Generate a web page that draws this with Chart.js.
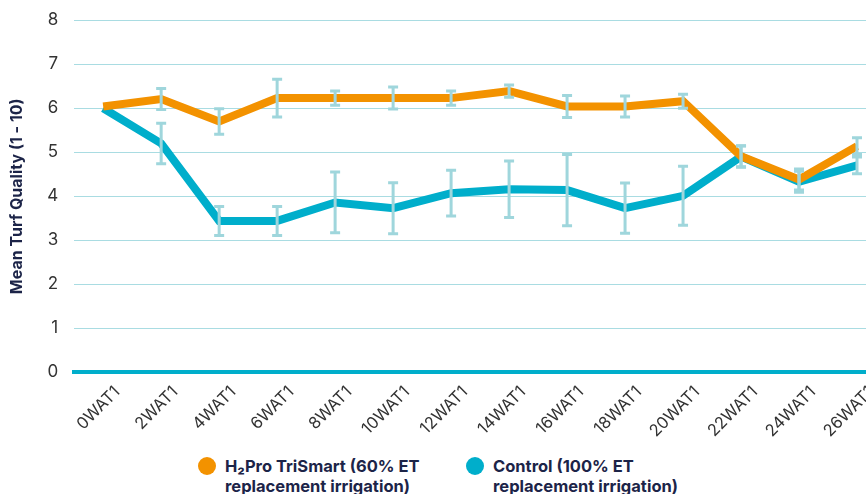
<!DOCTYPE html>
<html>
<head>
<meta charset="utf-8">
<script src="https://cdn.jsdelivr.net/npm/chart.js@4.4.1/dist/chart.umd.min.js"></script>
<style>
  html, body { margin: 0; padding: 0; background: #fff; overflow: hidden; width: 866px; height: 494px; }
  #wrap { position: absolute; left: 0; top: -6px; width: 888px; height: 449px; }
  .legend { position: absolute; top: 456px; font-family: Inter, "Noto Sans", sans-serif; font-weight: 700;
            font-size: 16.5px; line-height: 20px; color: #1c2448; }
  .legend .dot { position: absolute; left: 0; top: 1px; width: 18px; height: 18px; border-radius: 50%; }
  .legend .txt { margin-left: 27px; white-space: nowrap; }
</style>
</head>
<body>
<div id="wrap"><canvas id="chart"></canvas></div>
<div class="legend" style="left:198px"><span class="dot" style="background:#f39200"></span><div class="txt">H₂Pro TriSmart (60% ET<br>replacement irrigation)</div></div>
<div class="legend" style="left:466px"><span class="dot" style="background:#00aecb"></span><div class="txt">Control (100% ET<br>replacement irrigation)</div></div>
<script>
// 数据
const categories = ['0WAT1', '2WAT1', '4WAT1', '6WAT1', '8WAT1', '10WAT1', '12WAT1',
  '14WAT1', '16WAT1', '18WAT1', '20WAT1', '22WAT1', '24WAT1', '26WAT1'];
const trismartValues = [6.04, 6.21, 5.70, 6.23, 6.23, 6.23, 6.23, 6.39, 6.04, 6.04, 6.16, 4.91, 4.38, 5.14];
const trismartErr    = [0, 0.24, 0.29, 0.43, 0.16, 0.25, 0.16, 0.14, 0.25, 0.24, 0.16, 0.24, 0.24, 0.19];
const controlValues  = [6.0, 5.2, 3.44, 3.44, 3.86, 3.73, 4.07, 4.16, 4.14, 3.73, 4.01, 4.9, 4.33, 4.7];
const controlErr     = [0, 0.46, 0.33, 0.33, 0.69, 0.58, 0.52, 0.64, 0.81, 0.57, 0.67, 0.24, 0.24, 0.19];

const orange = '#f39200';
const cyan = '#00aecb';
const barColor = '#9fd6dc';

// 误差线插件
const errorBars = {
  id: 'errorBars',
  afterDatasetsDraw(chart) {
    const ctx = chart.ctx;
    const xs = chart.scales.x, ys = chart.scales.y;
    ctx.save();
    ctx.strokeStyle = barColor;
    ctx.lineWidth = 3;
    chart.data.datasets.forEach(ds => {
      ds.data.forEach((v, i) => {
        const e = ds.err[i];
        if (!e) return;
        const x = xs.getPixelForValue(i);
        const y1 = ys.getPixelForValue(v + e);
        const y2 = ys.getPixelForValue(v - e);
        ctx.beginPath();
        ctx.moveTo(x, y1); ctx.lineTo(x, y2);
        ctx.moveTo(x - 5, y1); ctx.lineTo(x + 5, y1);
        ctx.moveTo(x - 5, y2); ctx.lineTo(x + 5, y2);
        ctx.stroke();
      });
    });
    ctx.restore();
  }
};

new Chart(document.getElementById('chart'), {
  type: 'line',
  data: {
    labels: categories,
    datasets: [
      { label: 'H₂Pro TriSmart (60% ET replacement irrigation)', data: trismartValues, err: trismartErr,
        borderColor: orange, backgroundColor: orange, borderWidth: 8, pointRadius: 0, order: 1 },
      { label: 'Control (100% ET replacement irrigation)', data: controlValues, err: controlErr,
        borderColor: cyan, backgroundColor: cyan, borderWidth: 8, pointRadius: 0, order: 2 }
    ]
  },
  options: {
    responsive: true,
    maintainAspectRatio: false,
    animation: false,
    layout: { padding: { top: 0, right: 2, left: 4 } },
    plugins: { legend: { display: false }, tooltip: { enabled: false } },
    scales: {
      x: {
        offset: true,
        grid: { display: false },
        border: { display: true, color: cyan, width: 4 },
        ticks: { color: '#333', font: { family: 'Inter', size: 16.5 }, minRotation: 45, maxRotation: 45,
                 padding: 2, labelOffset: 14 }
      },
      y: {
        min: 0, max: 8,
        ticks: { stepSize: 1, color: '#333', font: { family: 'Inter', size: 17 }, padding: 16 },
        grid: { color: '#a9dce2', lineWidth: 1, drawTicks: false },
        border: { display: false },
        title: { display: true, text: 'Mean Turf Quality (1 - 10)', color: '#1c2448',
                 font: { family: 'Inter', size: 16, weight: 'bold' }, padding: { bottom: 4 } }
      }
    }
  },
  plugins: [errorBars]
});
</script>
</body>
</html>
